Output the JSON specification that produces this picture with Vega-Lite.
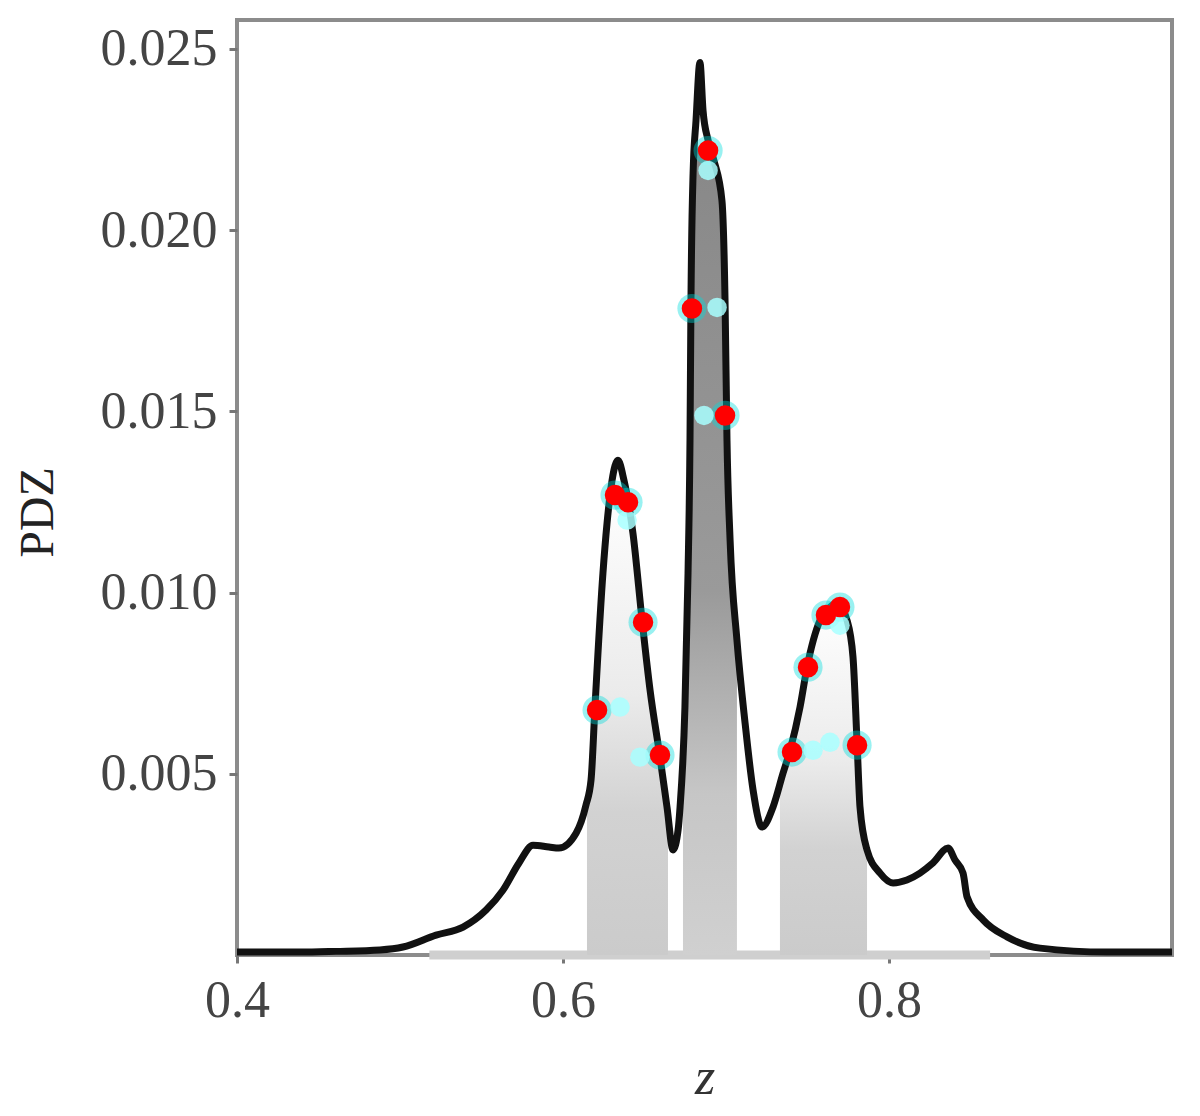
{
  "$schema": "https://vega.github.io/schema/vega-lite/v6.json",
  "autosize": "none",
  "padding": {"left": 237, "top": 20, "right": 28, "bottom": 161},
  "width": 935,
  "height": 935,
  "background": "white",
  "config": {
    "view": {"stroke": "#8c8c8c", "strokeWidth": 4},
    "font": "Liberation Serif"
  },
  "datasets": {
    "pdz": [
      {"z": 0.4, "pdf": 0.00008}, {"z": 0.4387, "pdf": 0.00008}, {"z": 0.4607, "pdf": 0.0001},
      {"z": 0.4877, "pdf": 0.00014}, {"z": 0.5018, "pdf": 0.00022}, {"z": 0.5221, "pdf": 0.00055},
      {"z": 0.5387, "pdf": 0.00077}, {"z": 0.5528, "pdf": 0.00124}, {"z": 0.5632, "pdf": 0.00179},
      {"z": 0.573, "pdf": 0.00254}, {"z": 0.5816, "pdf": 0.00303}, {"z": 0.5914, "pdf": 0.00298},
      {"z": 0.5975, "pdf": 0.00295}, {"z": 0.608, "pdf": 0.00336}, {"z": 0.6141, "pdf": 0.00414},
      {"z": 0.6172, "pdf": 0.00483}, {"z": 0.6196, "pdf": 0.00684}, {"z": 0.6245, "pdf": 0.01054},
      {"z": 0.627, "pdf": 0.01191}, {"z": 0.6301, "pdf": 0.0131}, {"z": 0.6337, "pdf": 0.01365},
      {"z": 0.6374, "pdf": 0.0131}, {"z": 0.6429, "pdf": 0.01164}, {"z": 0.6485, "pdf": 0.00924},
      {"z": 0.6534, "pdf": 0.00731}, {"z": 0.6595, "pdf": 0.00546}, {"z": 0.6638, "pdf": 0.00408},
      {"z": 0.6675, "pdf": 0.0029}, {"z": 0.6706, "pdf": 0.00345}, {"z": 0.6718, "pdf": 0.00408},
      {"z": 0.6748, "pdf": 0.00684}, {"z": 0.6767, "pdf": 0.01054}, {"z": 0.6779, "pdf": 0.0142},
      {"z": 0.6785, "pdf": 0.01806}, {"z": 0.6798, "pdf": 0.02157}, {"z": 0.6816, "pdf": 0.02303},
      {"z": 0.684, "pdf": 0.02463}, {"z": 0.6859, "pdf": 0.0233}, {"z": 0.689, "pdf": 0.02248},
      {"z": 0.6926, "pdf": 0.02192}, {"z": 0.6975, "pdf": 0.02082}, {"z": 0.6994, "pdf": 0.01806},
      {"z": 0.7006, "pdf": 0.0142}, {"z": 0.7025, "pdf": 0.01145}, {"z": 0.7067, "pdf": 0.00869},
      {"z": 0.7117, "pdf": 0.0064}, {"z": 0.7166, "pdf": 0.00455}, {"z": 0.7221, "pdf": 0.00353},
      {"z": 0.7288, "pdf": 0.00408}, {"z": 0.735, "pdf": 0.00502}, {"z": 0.7393, "pdf": 0.00565},
      {"z": 0.7454, "pdf": 0.00684}, {"z": 0.7497, "pdf": 0.00794}, {"z": 0.7577, "pdf": 0.00924},
      {"z": 0.7638, "pdf": 0.0096}, {"z": 0.7681, "pdf": 0.00971}, {"z": 0.7742, "pdf": 0.00924},
      {"z": 0.7779, "pdf": 0.00822}, {"z": 0.7804, "pdf": 0.00585}, {"z": 0.7822, "pdf": 0.00408},
      {"z": 0.7865, "pdf": 0.0029}, {"z": 0.7945, "pdf": 0.00226}, {"z": 0.8025, "pdf": 0.00199},
      {"z": 0.811, "pdf": 0.00207}, {"z": 0.819, "pdf": 0.00226}, {"z": 0.827, "pdf": 0.00254},
      {"z": 0.8362, "pdf": 0.00295}, {"z": 0.8405, "pdf": 0.00262}, {"z": 0.8454, "pdf": 0.00226},
      {"z": 0.8479, "pdf": 0.0016}, {"z": 0.8577, "pdf": 0.00097}, {"z": 0.8724, "pdf": 0.0005},
      {"z": 0.8926, "pdf": 0.00019}, {"z": 0.9337, "pdf": 0.00008}, {"z": 0.9736, "pdf": 0.00008}
    ],
    "sideShade": [
      {"grp": "a", "z": 0.6147, "pdf": 0.0}, {"grp": "a", "z": 0.6147, "pdf": 0.00427},
      {"grp": "a", "z": 0.6172, "pdf": 0.00483}, {"grp": "a", "z": 0.6196, "pdf": 0.00684},
      {"grp": "a", "z": 0.6245, "pdf": 0.01054}, {"grp": "a", "z": 0.627, "pdf": 0.01191},
      {"grp": "a", "z": 0.6301, "pdf": 0.0128}, {"grp": "a", "z": 0.6337, "pdf": 0.0131},
      {"grp": "a", "z": 0.6374, "pdf": 0.0128}, {"grp": "a", "z": 0.6429, "pdf": 0.01164},
      {"grp": "a", "z": 0.6485, "pdf": 0.00924}, {"grp": "a", "z": 0.6534, "pdf": 0.00731},
      {"grp": "a", "z": 0.6595, "pdf": 0.00546}, {"grp": "a", "z": 0.6638, "pdf": 0.00408},
      {"grp": "a", "z": 0.6644, "pdf": 0.0039}, {"grp": "a", "z": 0.6644, "pdf": 0.0},
      {"grp": "c", "z": 0.7331, "pdf": 0.0}, {"grp": "c", "z": 0.7331, "pdf": 0.00483},
      {"grp": "c", "z": 0.735, "pdf": 0.00502}, {"grp": "c", "z": 0.7393, "pdf": 0.00565},
      {"grp": "c", "z": 0.7454, "pdf": 0.00684}, {"grp": "c", "z": 0.7497, "pdf": 0.00794},
      {"grp": "c", "z": 0.7577, "pdf": 0.00924}, {"grp": "c", "z": 0.7638, "pdf": 0.0096},
      {"grp": "c", "z": 0.7681, "pdf": 0.00971}, {"grp": "c", "z": 0.7742, "pdf": 0.00924},
      {"grp": "c", "z": 0.7779, "pdf": 0.00822}, {"grp": "c", "z": 0.7804, "pdf": 0.00585},
      {"grp": "c", "z": 0.7822, "pdf": 0.00408}, {"grp": "c", "z": 0.7865, "pdf": 0.0029},
      {"grp": "c", "z": 0.7865, "pdf": 0.0}
    ],
    "midShade": [
      {"z": 0.6736, "pdf": 0.00565}, {"z": 0.6748, "pdf": 0.00684}, {"z": 0.6767, "pdf": 0.01054},
      {"z": 0.6779, "pdf": 0.0142}, {"z": 0.6785, "pdf": 0.01806}, {"z": 0.6798, "pdf": 0.02157},
      {"z": 0.6816, "pdf": 0.0222}, {"z": 0.684, "pdf": 0.0223}, {"z": 0.689, "pdf": 0.0222},
      {"z": 0.6926, "pdf": 0.02192}, {"z": 0.6975, "pdf": 0.02082}, {"z": 0.6994, "pdf": 0.01806},
      {"z": 0.7006, "pdf": 0.0142}, {"z": 0.7025, "pdf": 0.01145}, {"z": 0.7067, "pdf": 0.00869}
    ],
    "baseBand": [
      {"z": 0.518, "pdf": 0.0}, {"z": 0.862, "pdf": 0.0}
    ],
    "redDots": [
      {"z": 0.689, "pdf": 0.0222}, {"z": 0.6791, "pdf": 0.01784}, {"z": 0.6994, "pdf": 0.01489},
      {"z": 0.6319, "pdf": 0.01269}, {"z": 0.6399, "pdf": 0.01249}, {"z": 0.6491, "pdf": 0.00918},
      {"z": 0.6209, "pdf": 0.00676}, {"z": 0.6595, "pdf": 0.00552}, {"z": 0.7613, "pdf": 0.00938},
      {"z": 0.7699, "pdf": 0.0096}, {"z": 0.7503, "pdf": 0.00794}, {"z": 0.7405, "pdf": 0.0056},
      {"z": 0.7804, "pdf": 0.00579}
    ],
    "cyanDots": [
      {"z": 0.635, "pdf": 0.00684}, {"z": 0.6472, "pdf": 0.00546}, {"z": 0.7534, "pdf": 0.00565},
      {"z": 0.7638, "pdf": 0.00587}, {"z": 0.6945, "pdf": 0.01787}, {"z": 0.6865, "pdf": 0.01489},
      {"z": 0.689, "pdf": 0.02165}, {"z": 0.6393, "pdf": 0.012}, {"z": 0.7699, "pdf": 0.0091}
    ]
  },
  "encoding": {
    "x": {
      "field": "z", "type": "quantitative",
      "scale": {"domain": [0.4, 0.9736], "nice": false, "zero": false},
      "axis": {
        "values": [0.4, 0.6, 0.8], "format": ".1f", "grid": false, "domain": false,
        "labelFlush": false, "labelFont": "Liberation Serif", "labelFontSize": 52,
        "labelColor": "#444", "labelPadding": 12, "tickSize": 8, "tickWidth": 3, "tickColor": "#777",
        "title": "z", "titleFont": "Liberation Serif", "titleFontSize": 52, "titleFontStyle": "italic",
        "titleFontWeight": "normal", "titleColor": "#333", "titleY": 122, "titleBaseline": "middle"
      }
    },
    "y": {
      "field": "pdf", "type": "quantitative",
      "scale": {"domain": [0, 0.0258], "nice": false},
      "axis": {
        "values": [0.005, 0.01, 0.015, 0.02, 0.025], "format": ".3f", "grid": false, "domain": false,
        "labelFont": "Liberation Serif", "labelFontSize": 52, "labelColor": "#444", "labelPadding": 12,
        "tickSize": 8, "tickWidth": 3, "tickColor": "#777",
        "title": "PDZ", "titleFont": "Liberation Serif", "titleFontSize": 48, "titleFontWeight": "normal",
        "titleColor": "#222", "titlePadding": 38, "titleY": 492
      }
    }
  },
  "layer": [
    {
      "data": {"name": "baseBand"},
      "mark": {"type": "line", "color": "#cfcfcf", "strokeWidth": 9, "clip": false},
      "encoding": {}
    },
    {
      "data": {"name": "sideShade"},
      "mark": {
        "type": "area", "interpolate": "linear",
        "color": {"gradient": "linear", "x1": 0, "y1": 0, "x2": 0, "y2": 1,
          "stops": [{"offset": 0, "color": "#ffffff"}, {"offset": 0.45, "color": "#ebebeb"},
                    {"offset": 0.7, "color": "#d2d2d2"}, {"offset": 1, "color": "#cbcbcb"}]}
      },
      "encoding": {"detail": {"field": "grp"}, "order": {"value": 0}}
    },
    {
      "data": {"name": "midShade"},
      "mark": {
        "type": "area", "interpolate": "monotone",
        "color": {"gradient": "linear", "x1": 0, "y1": 0, "x2": 0, "y2": 1,
          "stops": [{"offset": 0, "color": "#888888"}, {"offset": 0.55, "color": "#9a9a9a"},
                    {"offset": 0.8, "color": "#c6c6c6"}, {"offset": 1, "color": "#d0d0d0"}]}
      }
    },
    {
      "data": {"name": "pdz"},
      "mark": {"type": "line", "interpolate": "monotone", "color": "#111111", "strokeWidth": 7}
    },
    {
      "data": {"name": "redDots"},
      "mark": {"type": "circle", "color": "#00dcdc", "opacity": 0.4, "size": 850}
    },
    {
      "data": {"name": "cyanDots"},
      "mark": {"type": "circle", "color": "#a8ffff", "opacity": 0.85, "size": 380}
    },
    {
      "data": {"name": "redDots"},
      "mark": {"type": "circle", "color": "#ff0000", "opacity": 1, "size": 420}
    }
  ]
}
